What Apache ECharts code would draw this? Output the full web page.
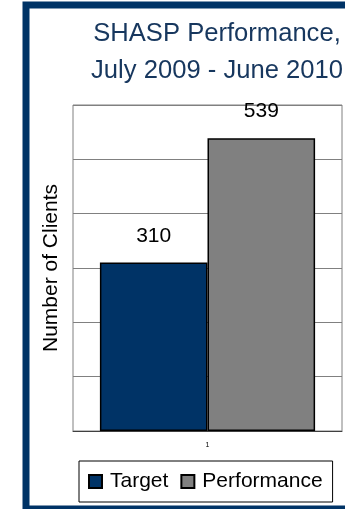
<!DOCTYPE html>
<html>
<head>
<meta charset="utf-8">
<script src="https://cdn.jsdelivr.net/npm/echarts@6/dist/echarts.min.js"></script>
<style>
  html, body { margin: 0; padding: 0; background: #fff; }
  #chart { width: 345px; height: 509px; }
</style>
</head>
<body>
<div id="chart"></div>
<script>
// data
var categories = ["1"];
var targetValues = [310];
var performanceValues = [539];
var seriesNames = ["Target", "Performance"];

var font = "Liberation Sans, Arial, sans-serif";
var navy = "#003366";

var myChart = echarts.init(document.getElementById("chart"));
var option;

option = {
  animation: false,
  // dark blue frame round the whole chart (right side runs off the picture)
  graphic: [
    {
      type: "rect",
      z: -10,
      shape: { x: 26, y: 5, width: 400, height: 504 },
      style: { fill: "#fff", stroke: navy, lineWidth: 7 }
    }
  ],
  title: {
    text: "SHASP Performance,\nJuly 2009 - June 2010",
    left: 217,
    top: 15,
    padding: 0,
    textAlign: "center",
    textStyle: {
      fontFamily: font,
      fontSize: 25.6,
      fontWeight: "normal",
      lineHeight: 37,
      color: "#17375E"
    }
  },
  grid: {
    left: 73,
    top: 105,
    right: 3,
    bottom: 78,
    show: true,
    borderColor: "#808080",
    borderWidth: 1
  },
  legend: {
    data: seriesNames,
    left: 79,
    top: 461,
    padding: [10, 10, 10, 9],
    itemGap: 12,
    itemWidth: 13,
    itemHeight: 13,
    icon: "rect",
    borderColor: "#000",
    borderWidth: 1,
    textStyle: {
      fontFamily: font,
      fontSize: 21,
      color: "#000",
      padding: [0, 0, 0, 3]
    }
  },
  xAxis: {
    type: "category",
    data: categories,
    axisLine: { lineStyle: { color: "#404040", width: 1 } },
    axisTick: { show: false },
    axisLabel: { fontFamily: font, fontSize: 7, color: "#000", margin: 11 }
  },
  yAxis: {
    type: "value",
    min: 0,
    max: 600,
    interval: 100,
    name: "Number of Clients",
    nameLocation: "middle",
    nameGap: 11,
    nameTextStyle: { fontFamily: font, fontSize: 21, color: "#000" },
    axisLine: { show: false },
    axisTick: { show: false },
    axisLabel: { show: false },
    splitLine: { lineStyle: { color: "#808080", width: 1 } }
  },
  series: [
    {
      name: seriesNames[0],
      type: "bar",
      data: targetValues,
      barGap: 0,
      barCategoryGap: "20%",
      itemStyle: { color: navy, borderColor: "#000", borderWidth: 1.5 },
      label: {
        show: true,
        position: "top",
        distance: 16,
        fontFamily: font,
        fontSize: 21,
        color: "#000"
      }
    },
    {
      name: seriesNames[1],
      type: "bar",
      data: performanceValues,
      barGap: 0,
      barCategoryGap: "20%",
      itemStyle: { color: "#808080", borderColor: "#000", borderWidth: 1.5 },
      label: {
        show: true,
        position: "top",
        distance: 16,
        fontFamily: font,
        fontSize: 21,
        color: "#000"
      }
    }
  ]
};

option && myChart.setOption(option);
</script>
</body>
</html>
